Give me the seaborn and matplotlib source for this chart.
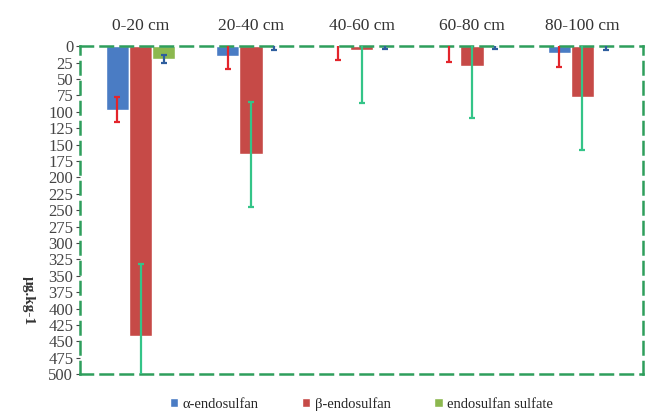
import numpy as np
import pandas as pd
import seaborn as sns
import matplotlib.pyplot as plt

# depth layers and compounds
depths = ['0-20 cm', '20-40 cm', '40-60 cm', '60-80 cm', '80-100 cm']
compounds = ['α-endosulfan', 'β-endosulfan', 'endosulfan sulfate']

# mean concentrations (µg/kg)
alpha_vals = [97, 15, 2, 2, 10]
beta_vals = [442, 165, 6, 30, 78]
sulfate_vals = [19, 2, 1, 1, 2]

# error bar half-lengths
alpha_err = [19, 20, 19, 22, 22]
beta_err = [110, 80, 81, 80, 80]
sulfate_err = [6, 4, 3, 3, 4]

bar_colors = ['#4A7CC4', '#C64A47', '#8CB84F']
err_colors = ['#E3242B', '#34C488', '#2F5E9E']
border_color = '#2E9E5C'

df = pd.DataFrame({
    'depth': depths * 3,
    'compound': np.repeat(compounds, len(depths)),
    'value': alpha_vals + beta_vals + sulfate_vals,
})

sns.set_style('white')
plt.rcParams['font.family'] = ['Liberation Serif', 'DejaVu Serif']

fig = plt.figure(figsize=(6.52, 4.12), dpi=100)
ax = fig.add_axes([0.123, 0.092, 0.863, 0.796])

sns.barplot(data=df, x='depth', y='value', hue='compound', palette=bar_colors,
            width=0.63, errorbar=None, saturation=1, ax=ax)

errs = [alpha_err, beta_err, sulfate_err]
vals = [alpha_vals, beta_vals, sulfate_vals]
bar_groups = list(ax.containers)
for i, cont in enumerate(bar_groups):
    xs = [p.get_x() + p.get_width() / 2 for p in cont.patches]
    ax.errorbar(xs, vals[i], yerr=errs[i], fmt='none', ecolor=err_colors[i],
                elinewidth=1.6, capsize=2.5, capthick=1.6, zorder=5)

ax.set_ylim(500, 0)
ax.set_yticks(np.arange(0, 501, 25))
ax.xaxis.tick_top()
ax.tick_params(axis='x', length=0, labelsize=12.5, pad=9, colors='#333333')
ax.tick_params(axis='y', length=3, left=True, labelsize=12, pad=2, colors='#444444')
ax.set_xlabel('')
ax.set_ylabel('µg.kg-1', rotation=270, fontweight='bold', fontsize=11, color='#333333')
ax.yaxis.set_label_coords(-0.104, 0.225)

for s in ax.spines.values():
    s.set_visible(True)
    s.set_color(border_color)
    s.set_linewidth(1.8)
    s.set_linestyle((0, (5, 3)))

ax.legend(loc='upper center', bbox_to_anchor=(0.5, -0.03), ncol=3, frameon=False,
          fontsize=10.5, handlelength=0.55, handleheight=0.55, handletextpad=0.3,
          columnspacing=3.0)

fig.savefig('out.png', dpi=100)
